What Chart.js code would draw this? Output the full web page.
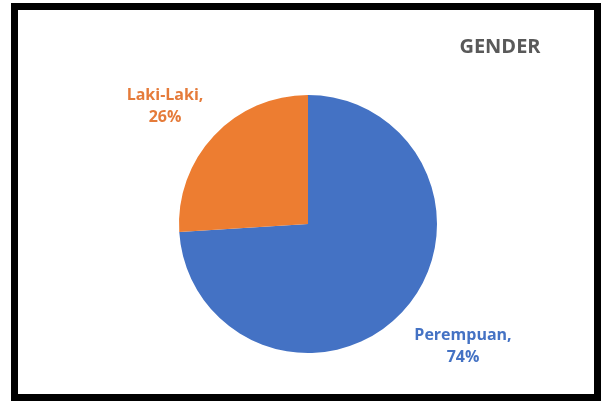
<!DOCTYPE html>
<html lang="id">

<head>
    <meta charset="UTF-8">
    <title>Gender</title>
    <script src="https://cdn.jsdelivr.net/npm/chart.js"></script>
    <style>
        html, body { margin: 0; padding: 0; background: #ffffff; }
        .bingkai {
            position: absolute;
            left: 11px; top: 3px; right: 0; bottom: 0;
            border: 7px solid #000000;
            background: #ffffff;
        }
        .bingkai canvas { display: block; }
    </style>
</head>

<body>
    <div class="bingkai">
        <canvas id="grafikGender" width="576" height="384"></canvas>
    </div>

    <script>
        // data jenis kelamin (persen)
        const kategori = ['Perempuan', 'Laki-Laki'];
        const persen = [74, 26];
        const warna = ['#4472C4', '#ED7D31'];
        const warnaLabel = ['#4472C4', '#E57B3A'];

        // posisi label relatif ke pusat pie
        const geserLabel = [[155, 122], [-143, -118]];

        const labelPlugin = {
            id: 'labelPie',
            afterDraw(chart) {
                const ctx = chart.ctx;
                const arcs = chart.getDatasetMeta(0).data;
                ctx.save();
                ctx.textAlign = 'center';
                ctx.textBaseline = 'middle';
                ctx.font = 'bold 16px "Open Sans"';
                arcs.forEach(function (arc, i) {
                    const x = arc.x + geserLabel[i][0];
                    const y = arc.y + geserLabel[i][1];
                    ctx.fillStyle = warnaLabel[i];
                    ctx.fillText(kategori[i] + ',', x, y - 11);
                    ctx.fillText(persen[i] + '%', x, y + 11);
                });
                // judul
                ctx.font = 'bold 20px "Open Sans"';
                ctx.fillStyle = '#595959';
                ctx.fillText('GENDER', arcs[0].x + 192, arcs[0].y - 177);
                ctx.restore();
            }
        };

        new Chart(document.getElementById('grafikGender').getContext('2d'), {
            type: 'pie',
            data: {
                labels: kategori,
                datasets: [{
                    data: persen,
                    backgroundColor: warna,
                    borderWidth: 0
                }]
            },
            options: {
                responsive: false,
                animation: false,
                layout: {
                    padding: { left: 161, right: 157, top: 85, bottom: 41 }
                },
                plugins: {
                    legend: { display: false },
                    tooltip: { enabled: false }
                }
            },
            plugins: [labelPlugin]
        });
    </script>
</body>

</html>
